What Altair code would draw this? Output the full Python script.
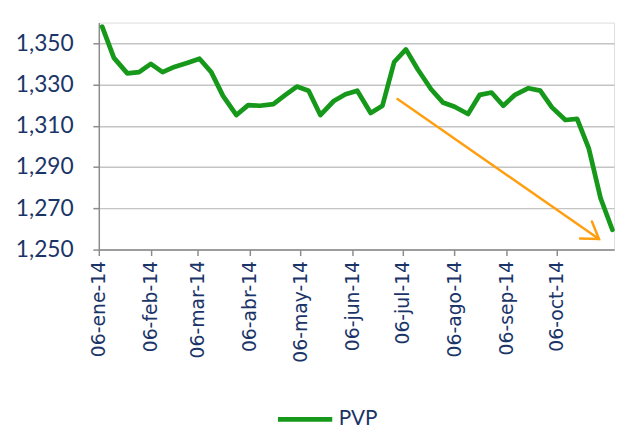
import altair as alt
import pandas as pd

# ---- data ----
fechas = [
    "2014-01-08", "2014-01-15", "2014-01-23", "2014-01-30", "2014-02-06",
    "2014-02-13", "2014-02-20", "2014-02-28", "2014-03-07", "2014-03-14",
    "2014-03-21", "2014-03-29", "2014-04-05", "2014-04-12", "2014-04-20",
    "2014-04-27", "2014-05-04", "2014-05-11", "2014-05-18", "2014-05-26",
    "2014-06-02", "2014-06-09", "2014-06-17", "2014-06-24", "2014-07-01",
    "2014-07-08", "2014-07-15", "2014-07-23", "2014-07-30", "2014-08-06",
    "2014-08-14", "2014-08-21", "2014-08-28", "2014-09-04", "2014-09-11",
    "2014-09-19", "2014-09-26", "2014-10-03", "2014-10-11", "2014-10-18",
    "2014-10-25", "2014-11-01", "2014-11-08",
]
pvp = [
    1358.0, 1342.9, 1335.4, 1336.0, 1340.0,
    1336.0, 1338.5, 1340.5, 1342.5, 1336.0,
    1324.5, 1315.2, 1320.0, 1319.7, 1320.5,
    1324.8, 1329.0, 1327.0, 1315.2, 1322.0,
    1325.3, 1327.0, 1316.2, 1319.7, 1340.9,
    1347.0, 1337.4, 1327.7, 1321.3, 1319.2,
    1315.7, 1325.0, 1326.1, 1319.7, 1325.0,
    1328.2, 1327.0, 1318.9, 1312.8, 1313.3,
    1298.9, 1274.9, 1259.6,
]
serie = "PVP"

meses = ["ene", "feb", "mar", "abr", "may", "jun", "jul", "ago", "sep", "oct", "nov", "dic"]
tick_meses = [1, 2, 3, 4, 5, 6, 7, 8, 9, 10]
y_ticks = [1250, 1270, 1290, 1310, 1330, 1350]

# annotation arrow (start / end, in data units)
flecha_fecha = ["2014-07-03", "2014-10-31"]
flecha_valor = [1323.0, 1255.1]

GREEN = "#16981A"
ORANGE = "#FF9F10"
NAVY = "#1A3468"

df = pd.DataFrame({"fecha": fechas, "valor": pvp, "serie": [serie] * len(pvp)})
arrow_df = pd.DataFrame({
    "f1": [flecha_fecha[0]], "v1": [flecha_valor[0]],
    "f2": [flecha_fecha[1]], "v2": [flecha_valor[1]],
})
head_df = pd.DataFrame({"f": [flecha_fecha[1]], "v": [flecha_valor[1]]})

x_scale = alt.Scale(type="utc",
                    domain=[alt.DateTime(year=2014, month=1, date=6, utc=True),
                            alt.DateTime(year=2014, month=11, date=9, utc=True)],
                    nice=False)
y_scale = alt.Scale(domain=[1250, 1360], nice=False, zero=False)

label_expr = "'06-' + " + str(meses) + "[utcmonth(datum.value)] + '-14'"

x_axis = alt.Axis(
    values=[alt.DateTime(year=2014, month=m, date=6, utc=True) for m in tick_meses],
    labelExpr=label_expr,
    labelAngle=270,
    labelFont="DejaVu Sans", labelFontSize=19, labelColor=NAVY,
    labelPadding=5, tickSize=6, tickColor="#8C8C8C", tickWidth=1.5,
    domainColor="#8C8C8C", domainWidth=1.5, grid=False, title=None,
    labelOverlap=False,
)
y_axis = alt.Axis(
    values=y_ticks, format=",d",
    labelFont="Lato", labelFontSize=23, labelColor=NAVY,
    labelPadding=20, tickSize=6, tickColor="#8C8C8C", tickWidth=1.5,
    domainColor="#8C8C8C", domainWidth=1.5,
    grid=True, gridColor="#C4C4C4", gridWidth=1.5, title=None,
)

line = alt.Chart(df).mark_line(strokeWidth=4.8, strokeJoin="round", strokeCap="round").encode(
    x=alt.X("fecha:T", scale=x_scale, axis=x_axis),
    y=alt.Y("valor:Q", scale=y_scale, axis=y_axis),
    color=alt.Color("serie:N", scale=alt.Scale(domain=[serie], range=[GREEN]),
                    legend=alt.Legend(orient="none", legendX=179, legendY=372, title=None,
                                      symbolType="stroke", symbolSize=3025,
                                      symbolStrokeWidth=5, symbolStrokeColor=GREEN,
                                      labelFont="Lato", labelFontSize=21,
                                      labelColor=NAVY, labelOffset=4, padding=0)),
)

shaft = alt.Chart(arrow_df).mark_rule(color=ORANGE, strokeWidth=2.5, strokeCap="round").encode(
    x=alt.X("f1:T", scale=x_scale),
    y=alt.Y("v1:Q", scale=y_scale),
    x2="f2:T",
    y2="v2:Q",
)

head = alt.Chart(head_df).mark_point(
    shape="M-16,-10.5L0,0L-16,10.5", size=4, angle=35, filled=False,
    color=ORANGE, strokeWidth=2.5, opacity=1, strokeCap="round", strokeJoin="miter",
).encode(
    x=alt.X("f:T", scale=x_scale),
    y=alt.Y("v:Q", scale=y_scale),
)

chart = alt.layer(line, shaft, head).properties(
    width=522, height=230,
    autosize=alt.AutoSizeParams(type="none"),
    padding={"left": 92, "top": 12, "right": 3, "bottom": 179},
).configure_view(stroke=None).configure(background="white")

chart.save("out.html", embed_options={"renderer": "svg", "actions": False})
